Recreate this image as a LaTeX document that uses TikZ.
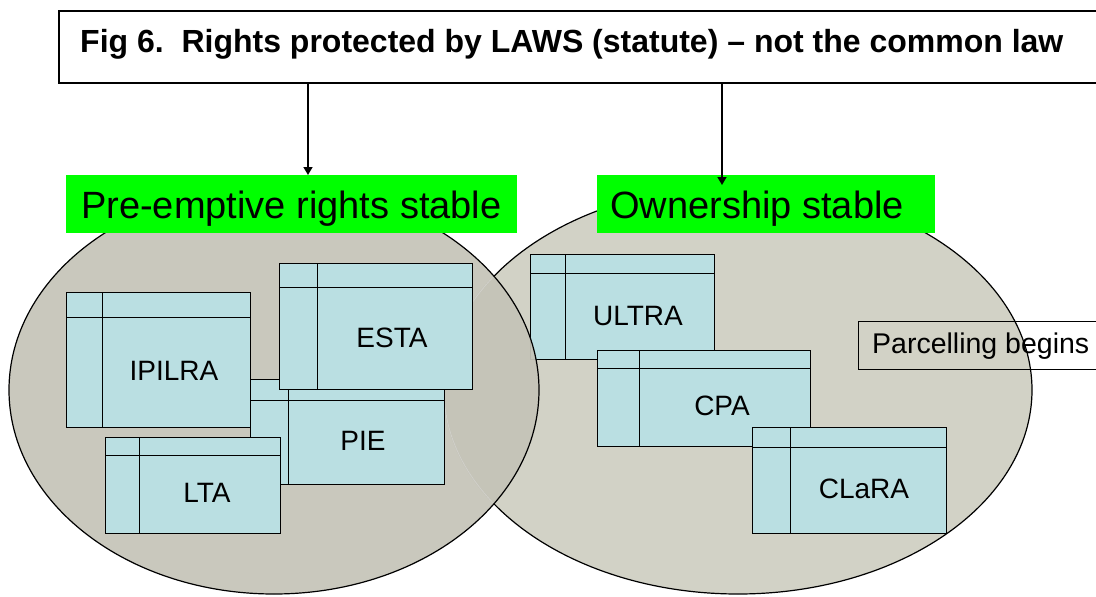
\documentclass[tikz,border=0pt]{standalone}
\usepackage{fontspec}
\setmainfont{Liberation Sans}
\usetikzlibrary{arrows.meta}
\definecolor{lawblue}{HTML}{BADFE2}
\definecolor{leftgray}{HTML}{C5C4B8}
\definecolor{rightgray}{HTML}{D2D2C6}
\definecolor{tagreen}{HTML}{00FF00}
\tikzset{
  lawbox/.style 2 args={draw=black, line width=1pt, fill=lawblue, inner sep=0pt,
    anchor=north west,
    path picture={
      \draw[line width=1pt]
        ([yshift=-#1 pt]path picture bounding box.north west) --
        ([yshift=-#1 pt]path picture bounding box.north east);
      \draw[line width=1pt]
        ([xshift=#2 pt]path picture bounding box.north west) --
        ([xshift=#2 pt]path picture bounding box.south west);
    }},
  lawtext/.style={inner sep=0pt, anchor=base, font=\fontsize{28}{30}\selectfont},
  tagbox/.style={fill=tagreen, inner sep=0pt, anchor=north west},
  tagtext/.style={inner sep=0pt, anchor=base west, font=\fontsize{38}{40}\selectfont},
  arr/.style={line width=1.5pt, -{Triangle[width=9pt,length=8pt]}},
}
\begin{document}
\begin{tikzpicture}[x=1pt,y=-1pt]
\useasboundingbox (0,0) rectangle (1096,597);
\clip (0,0) rectangle (1096,597);
\fill[white] (0,0) rectangle (1096,597);

% ownership circle and its statutes
\draw[fill=rightgray, line width=1.2pt] (738,390) ellipse [x radius=294pt, y radius=204pt];
\node[lawbox={19}{35}, minimum width=184, minimum height=105] (ultra) at (530,254) {};
\node[lawtext] (ultra-t) at (638,325) {ULTRA};
\node[lawbox={18}{42}, minimum width=213, minimum height=96] (cpa) at (597,350) {};
\node[lawtext] (cpa-t) at (722,415) {CPA};
\node[lawbox={20}{38}, minimum width=194, minimum height=106] (clara) at (752,427) {};
\node[lawtext] (clara-t) at (864,498) {CLaRA};

% pre-emptive rights circle, with the other circle's rim faintly showing through
\draw[fill=leftgray, fill opacity=0.93, line width=1.2pt] (274,390) ellipse [x radius=265pt, y radius=204pt];
\begin{scope}
  \clip (274,390) ellipse [x radius=264pt, y radius=203pt];
  \draw[white, opacity=0.35, line width=1pt] (738,390) ellipse [x radius=294pt, y radius=204pt];
\end{scope}
\node[lawbox={21}{38}, minimum width=194, minimum height=105] (pie) at (250,379) {};
\node[lawtext] (pie-t) at (363,450) {PIE};
\node[lawbox={25}{36}, minimum width=184, minimum height=135] (ipilra) at (66,292) {};
\node[lawtext] (ipilra-t) at (174,380) {IPILRA};
\node[lawbox={24}{38}, minimum width=193, minimum height=126] (esta) at (279,263) {};
\node[lawtext] (esta-t) at (392,347) {ESTA};
\node[lawbox={18}{34}, minimum width=175, minimum height=96] (lta) at (105,437) {};
\node[lawtext] (lta-t) at (207,502) {LTA};

% headings of the two circles
\node[tagbox, minimum width=451, minimum height=58] (g1) at (66,175) {};
\node[tagtext] (g1-t) at (81,218) {Pre-emptive rights stable};
\node[tagbox, minimum width=338, minimum height=58] (g2) at (597,175) {};
\node[tagtext] (g2-t) at (610,218) {Ownership stable};

% title box
\node[draw=black, line width=2pt, fill=white, inner sep=0pt, anchor=north west,
      minimum width=1046, minimum height=72] (title) at (58,10) {};
\node[inner sep=0pt, anchor=base west, font=\bfseries\fontsize{32}{34}\selectfont]
      (title-t) at (80,52) {Fig 6.\ \ Rights protected by LAWS (statute) -- not the common law};

% arrows from the title to the headings
\coordinate (a1) at (308,0);
\coordinate (a2) at (722,185);
\draw[arr] (title.south -| a1) -- (g1.north -| a1);
\draw[arr] (title.south -| a2) -- (a2);

% parcelling note
\node[draw=black, line width=1pt, inner sep=0pt, anchor=north west,
      minimum width=250, minimum height=48] (parcel) at (858,321) {};
\node[inner sep=0pt, anchor=base west, font=\fontsize{28.5}{30}\selectfont]
      (parcel-t) at (872,353) {Parcelling begins};
\end{tikzpicture}
\end{document}
